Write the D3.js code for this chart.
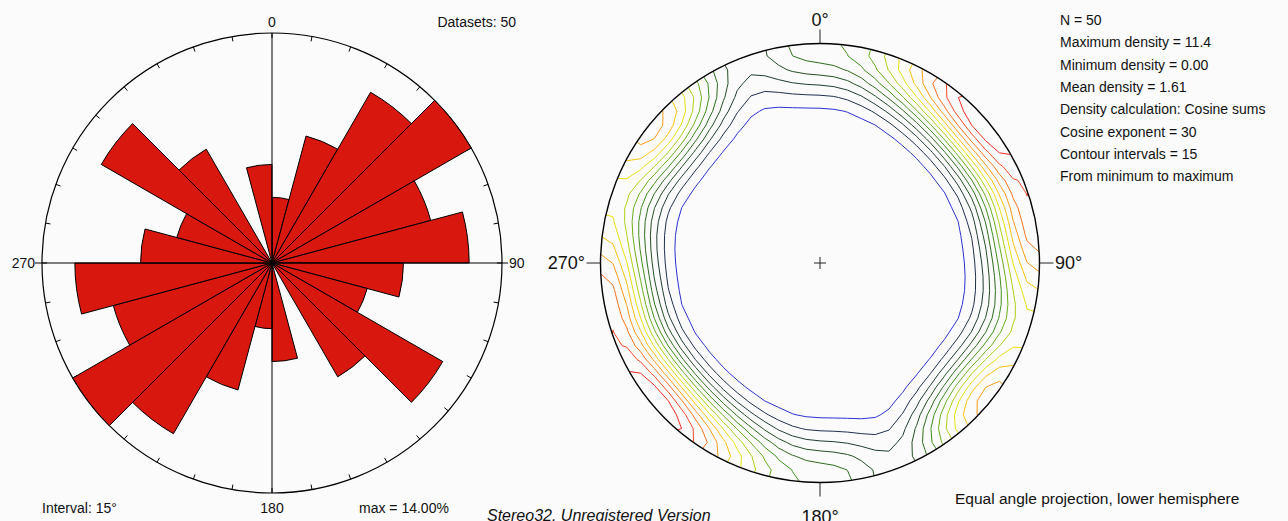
<!DOCTYPE html>
<html>
<head>
<meta charset="utf-8">
<title>Rose diagram and density plot</title>
<style>
  body { margin: 0; background: #fbfbfb; }
  svg { display: block; font-family: "Liberation Sans", Arial, sans-serif; }
</style>
</head>
<body>
<div id="chart"></div>
<script src="https://cdn.jsdelivr.net/npm/d3@7/dist/d3.min.js"></script>
<script>

// number of datasets in each 15 degree class, 0-180 (axial data, the rose mirrors it)
var binWidth = 15;
var binCounts = [2, 4, 6, 7, 5, 6, 4, 3, 6, 4, 0, 3];
var nData = 50;
var maxPct = 14;

var roseAxisLabels = ['0', '90', '180', '270'];
var netAxisLabels = ['0°', '90°', '180°', '270°'];
var statLines = [
  'N = 50',
  'Maximum density = 11.4',
  'Minimum density = 0.00',
  'Mean density = 1.61',
  'Density calculation: Cosine sums',
  'Cosine exponent = 30',
  'Contour intervals = 15',
  'From minimum to maximum'
];
var cosExponent = 30;
var contourIntervals = 15;
var contourColors = ['#2e30d0', '#203050', '#203c32', '#244e26', '#2e6c1e', '#3f8e1c', '#6aae1c',
                     '#aed014', '#e6e010', '#f8c20e', '#f89a16', '#f6721e', '#f24a26', '#f02a22'];

var width = 1288, height = 521;
var svg = d3.select('#chart').append('svg')
  .attr('width', width)
  .attr('height', height);

var rad = Math.PI / 180;

// ---------- rose diagram ----------
var R = 230;
var rose = svg.append('g').attr('transform', 'translate(272,263)');
var r = d3.scaleLinear().domain([0, maxPct]).range([0, R]);

var bins = d3.range(360 / binWidth).map(function(i) {
  return { start: i * binWidth, pct: binCounts[i % binCounts.length] / nData * 100 };
});

rose.append('circle')
  .attr('r', R)
  .attr('fill', 'none')
  .attr('stroke', '#000')
  .attr('stroke-width', 1.2);

rose.selectAll('line.tick')
  .data(d3.range(0, 360, 10))
  .enter().append('line')
    .attr('class', 'tick')
    .attr('x1', function(d) { return (R - 5) * Math.sin(d * rad); })
    .attr('y1', function(d) { return -(R - 5) * Math.cos(d * rad); })
    .attr('x2', function(d) { return R * Math.sin(d * rad); })
    .attr('y2', function(d) { return -R * Math.cos(d * rad); })
    .attr('stroke', '#000');

var arc = d3.arc()
  .innerRadius(0)
  .outerRadius(function(d) { return r(d.pct); })
  .startAngle(function(d) { return d.start * rad; })
  .endAngle(function(d) { return (d.start + binWidth) * rad; });

rose.selectAll('path.wedge')
  .data(bins.filter(function(d) { return d.pct > 0; }))
  .enter().append('path')
    .attr('class', 'wedge')
    .attr('d', arc)
    .attr('fill', '#d8170e')
    .attr('stroke', '#000')
    .attr('stroke-width', 1);

rose.append('line')
  .attr('x1', 0).attr('y1', -R).attr('x2', 0).attr('y2', R)
  .attr('stroke', '#000');
rose.append('line')
  .attr('x1', -R - 7).attr('y1', 0).attr('x2', R + 6).attr('y2', 0)
  .attr('stroke', '#000');

var roseText = [
  { t: roseAxisLabels[0], x: 0, y: -236, a: 'middle' },
  { t: roseAxisLabels[1], x: 237, y: 5, a: 'start' },
  { t: roseAxisLabels[2], x: 0, y: 250, a: 'middle' },
  { t: roseAxisLabels[3], x: -237, y: 5, a: 'end' },
  { t: 'Datasets: ' + nData, x: 244, y: -236, a: 'end' },
  { t: 'Interval: ' + binWidth + '°', x: -230, y: 250, a: 'start' },
  { t: 'max = ' + maxPct.toFixed(2) + '%', x: 87, y: 250, a: 'start' }
];
rose.selectAll('text')
  .data(roseText)
  .enter().append('text')
    .attr('x', function(d) { return d.x; })
    .attr('y', function(d) { return d.y; })
    .attr('text-anchor', function(d) { return d.a; })
    .attr('font-size', '14px')
    .attr('fill', '#111')
    .text(function(d) { return d.t; });

// ---------- density plot (equal angle, lower hemisphere) ----------
var Rn = 219.5;
var net = svg.append('g').attr('transform', 'translate(820,263)');

// data lines at class centres, horizontal (rose shows their trends)
var lines = binCounts.map(function(c, i) {
  var t = (i * binWidth + binWidth / 2) * rad;
  return { w: c, v: [Math.sin(t), Math.cos(t), 0] };
});

var n = 35, ext = 1.1;
var cell = 2 * ext * Rn / n;
var gpos = d3.scaleLinear().domain([0, n]).range([-ext, ext]);
var values = new Array(n * n);
var inside = [];
for (var j = 0; j < n; j++) {
  for (var i = 0; i < n; i++) {
    var ux = gpos(i + 0.5), uy = -gpos(j + 0.5);
    var rho = Math.sqrt(ux * ux + uy * uy);
    var tr = Math.atan2(ux, uy);
    var pl = Math.PI / 2 - 2 * Math.atan(rho);
    var v = [Math.cos(pl) * Math.sin(tr), Math.cos(pl) * Math.cos(tr), -Math.sin(pl)];
    var s = 0;
    lines.forEach(function(l) {
      var c = Math.abs(v[0] * l.v[0] + v[1] * l.v[1] + v[2] * l.v[2]);
      s += l.w * Math.pow(c, cosExponent);
    });
    values[i + j * n] = s;
    if (rho <= 1) inside.push(s);
  }
}
var ext2 = d3.extent(inside);
var thresholds = d3.range(1, contourIntervals).map(function(k) {
  return ext2[0] + k * (ext2[1] - ext2[0]) / contourIntervals;
});

var contours = d3.contours().size([n, n]).thresholds(thresholds)(values);
var cpath = d3.geoPath(d3.geoIdentity().scale(cell).translate([-ext * Rn, -ext * Rn]));

var defs = svg.append('defs');
defs.append('clipPath').attr('id', 'netclip')
  .append('circle').attr('r', Rn);

net.append('g')
  .attr('clip-path', 'url(#netclip)')
  .selectAll('path')
  .data(contours)
  .enter().append('path')
    .attr('d', cpath)
    .attr('fill', 'none')
    .attr('stroke', function(d, k) { return contourColors[k]; })
    .attr('stroke-width', 1);

net.append('circle')
  .attr('r', Rn)
  .attr('fill', 'none')
  .attr('stroke', '#000')
  .attr('stroke-width', 1.4);

net.selectAll('line.tick')
  .data([0, 90, 180, 270])
  .enter().append('line')
    .attr('class', 'tick')
    .attr('x1', function(d) { return Rn * Math.sin(d * rad); })
    .attr('y1', function(d) { return -Rn * Math.cos(d * rad); })
    .attr('x2', function(d) { return (Rn + 14) * Math.sin(d * rad); })
    .attr('y2', function(d) { return -(Rn + 14) * Math.cos(d * rad); })
    .attr('stroke', '#222');

net.append('line').attr('x1', -6).attr('x2', 6).attr('y1', 0).attr('y2', 0).attr('stroke', '#222');
net.append('line').attr('x1', 0).attr('x2', 0).attr('y1', -6).attr('y2', 6).attr('stroke', '#222');

var netText = [
  { t: netAxisLabels[0], x: 0, y: -237, a: 'middle' },
  { t: netAxisLabels[1], x: 235, y: 6, a: 'start' },
  { t: netAxisLabels[2], x: 0, y: 260, a: 'middle' },
  { t: netAxisLabels[3], x: -235, y: 6, a: 'end' }
];
net.selectAll('text')
  .data(netText)
  .enter().append('text')
    .attr('x', function(d) { return d.x; })
    .attr('y', function(d) { return d.y; })
    .attr('text-anchor', function(d) { return d.a; })
    .attr('font-size', '18px')
    .attr('fill', '#111')
    .text(function(d) { return d.t; });

svg.append('g').selectAll('text')
  .data(statLines)
  .enter().append('text')
    .attr('x', 1060)
    .attr('y', function(d, i) { return 25 + i * 22.3; })
    .attr('font-size', '14px')
    .attr('fill', '#111')
    .text(function(d) { return d; });

svg.append('text')
  .attr('x', 955).attr('y', 504)
  .attr('font-size', '15.5px')
  .attr('fill', '#111')
  .text('Equal angle projection, lower hemisphere');

svg.append('text')
  .attr('x', 487).attr('y', 521)
  .attr('font-size', '16px')
  .attr('font-style', 'italic')
  .attr('fill', '#111')
  .text('Stereo32. Unregistered Version');

</script>
</body>
</html>
